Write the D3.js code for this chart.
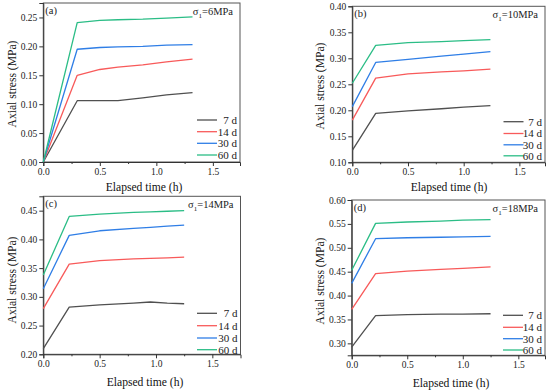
<!DOCTYPE html>
<html><head><meta charset="utf-8">
<script src="https://cdn.jsdelivr.net/npm/d3@7"></script>
<style>body{margin:0;background:#fff}svg{display:block}</style>
</head><body>
<svg id="c" width="550" height="392"></svg>
<script>
// ---- data ----
const seriesNames = ["7 d", "14 d", "30 d", "60 d"];
const seriesColors = ["#505050", "#f85a5a", "#2f7ee6", "#2bbd86"];
const panelLabels = ["(a)", "(b)", "(c)", "(d)"];
const stressLabels = ["6MPa", "10MPa", "14MPa", "18MPa"];

const timeA = [0, 0.30, 0.50, 0.66, 0.88, 1.09, 1.32];
const a7  = [0, 0.106, 0.106, 0.106, 0.111, 0.116, 0.120];
const a14 = [0, 0.150, 0.160, 0.164, 0.168, 0.173, 0.178];
const a30 = [0, 0.195, 0.198, 0.199, 0.200, 0.202, 0.203];
const a60 = [0, 0.241, 0.245, 0.246, 0.247, 0.249, 0.251];

const timeB = [0, 0.21, 0.50, 0.80, 1.00, 1.24];
const b7  = [0.123, 0.194, 0.199, 0.203, 0.206, 0.209];
const b14 = [0.181, 0.262, 0.270, 0.274, 0.276, 0.279];
const b30 = [0.207, 0.292, 0.298, 0.304, 0.308, 0.313];
const b60 = [0.252, 0.325, 0.330, 0.332, 0.334, 0.336];

const timeC = [0, 0.23, 0.50, 0.80, 0.95, 1.10, 1.25];
const c7  = [0.210, 0.282, 0.286, 0.289, 0.291, 0.289, 0.288];
const c14 = [0.2795, 0.357, 0.363, 0.366, 0.367, 0.368, 0.369];
const c30 = [0.314, 0.407, 0.415, 0.419, 0.421, 0.423, 0.425];
const c60 = [0.338, 0.440, 0.444, 0.447, 0.448, 0.449, 0.450];

const timeD = [0, 0.215, 0.50, 0.80, 1.00, 1.25];
const d7  = [0.292, 0.358, 0.360, 0.361, 0.361, 0.362];
const d14 = [0.371, 0.446, 0.451, 0.455, 0.457, 0.460];
const d30 = [0.4255, 0.519, 0.521, 0.522, 0.523, 0.524];
const d60 = [0.453, 0.551, 0.554, 0.556, 0.558, 0.559];

const xTicks = [0, 0.5, 1.0, 1.5];
const yTicksA = [0, 0.05, 0.10, 0.15, 0.20, 0.25];
const yTicksB = [0.10, 0.15, 0.20, 0.25, 0.30, 0.35, 0.40];
const yTicksC = [0.20, 0.25, 0.30, 0.35, 0.40, 0.45];
const yTicksD = [0.30, 0.35, 0.40, 0.45, 0.50, 0.55, 0.60];

// ---- layout ----
const panels = [
  {L:43.3, R:240, T:3, B:162, xMax:1.74, yDom:[0,0.275], yTicks:yTicksA, time:timeA, ser:[a7,a14,a30,a60],
   yTitle:[12,84], xTitle:[144,190.5], legX:197, legY:[120,131.7,143.3,155], labX:237},
  {L:352.3, R:545, T:6.3, B:162.3, xMax:1.73, yDom:[0.10,0.40], yTicks:yTicksB, time:timeB, ser:[b7,b14,b30,b60],
   yTitle:[320,86], xTitle:[449,190.5], legX:503.5, legY:[121.7,133.5,144.8,155.8], labX:542},
  {L:43.3, R:240.5, T:196.3, B:354.3, xMax:1.75, yDom:[0.20,0.475], yTicks:yTicksC, time:timeC, ser:[c7,c14,c30,c60],
   yTitle:[12,280], xTitle:[145,385.5], legX:197, legY:[313.3,325.7,338,349.7], labX:237.5},
  {L:351.7, R:545, T:200, B:355.3, xMax:1.74, yDom:[0.275,0.60], yTicks:yTicksD, time:timeD, ser:[d7,d14,d30,d60],
   yTitle:[320,281], xTitle:[451,387], legX:503, legY:[315.3,327.3,338.7,350], labX:542}
];

const svg = d3.select("#c");
const FONT = "'Liberation Serif','Times New Roman',serif";

panels.forEach((p, i) => {
  const x = d3.scaleLinear().domain([0, p.xMax]).range([p.L, p.R]);
  const y = d3.scaleLinear().domain(p.yDom).range([p.B, p.T]);
  const g = svg.append("g");

  // frame
  g.append("rect").attr("x", p.L).attr("y", p.T).attr("width", p.R - p.L).attr("height", p.B - p.T)
    .attr("fill", "none").attr("stroke", "#555").attr("stroke-width", 1);

  // x axis
  const xa = g.append("g").attr("transform", `translate(0,${p.B})`)
    .call(d3.axisBottom(x).tickValues(xTicks).tickFormat(d3.format(".1f")).tickSize(4).tickPadding(2));
  xa.select(".domain").attr("stroke", "#333");
  xa.selectAll("line").attr("stroke", "#333");
  xa.selectAll("text").attr("font-family", FONT).attr("font-size", 9.5).attr("fill", "#222");
  const xm = g.append("g").attr("transform", `translate(0,${p.B})`)
    .call(d3.axisBottom(x).tickValues([0.25, 0.75, 1.25]).tickFormat("").tickSize(2));
  xm.select(".domain").remove();
  xm.selectAll("line").attr("stroke", "#333");

  // y axis
  const ya = g.append("g").attr("transform", `translate(${p.L},0)`)
    .call(d3.axisLeft(y).tickValues(p.yTicks).tickFormat(d3.format(".2f")).tickSize(4).tickPadding(2));
  ya.select(".domain").attr("stroke", "#333");
  ya.selectAll("line").attr("stroke", "#333");
  ya.selectAll("text").attr("font-family", FONT).attr("font-size", 9.5).attr("fill", "#222");

  // titles
  g.append("text").attr("x", p.xTitle[0]).attr("y", p.xTitle[1]).attr("text-anchor", "middle")
    .attr("font-family", FONT).attr("font-size", 11.6).attr("fill", "#111").text("Elapsed time (h)");
  g.append("text").attr("transform", `translate(${p.yTitle[0]},${p.yTitle[1]}) rotate(-90)`)
    .attr("text-anchor", "middle").attr("dominant-baseline", "central")
    .attr("font-family", FONT).attr("font-size", 11.6).attr("fill", "#111").text("Axial stress (MPa)");

  // lines
  const line = d3.line().x((d, k) => x(p.time[k])).y(d => y(d));
  p.ser.forEach((vals, s) => {
    g.append("path").datum(vals).attr("d", line).attr("fill", "none")
      .attr("stroke", seriesColors[s]).attr("stroke-width", 1.3).attr("stroke-linejoin", "round");
  });

  // legend
  seriesNames.forEach((n, s) => {
    g.append("line").attr("x1", p.legX).attr("x2", p.legX + 20).attr("y1", p.legY[s]).attr("y2", p.legY[s])
      .attr("stroke", seriesColors[s]).attr("stroke-width", 1.3);
    g.append("text").attr("x", p.labX).attr("y", p.legY[s]).attr("dy", "0.35em").attr("text-anchor", "end")
      .attr("font-family", FONT).attr("font-size", 11).attr("fill", "#222").text(n);
  });

  // panel label
  g.append("text").attr("x", p.L + 2).attr("y", p.T + 11).attr("font-family", FONT).attr("font-size", 10.5)
    .attr("fill", "#222").text(panelLabels[i]);
  const st = g.append("text").attr("x", p.R - 7).attr("y", p.T + 12).attr("text-anchor", "end")
    .attr("font-family", FONT).attr("font-size", 10.5).attr("fill", "#222");
  st.append("tspan").text("σ");
  st.append("tspan").attr("font-size", 7).attr("dy", 2.5).text("1");
  st.append("tspan").attr("dy", -2.5).text("=" + stressLabels[i]);
});
</script>
</body></html>
